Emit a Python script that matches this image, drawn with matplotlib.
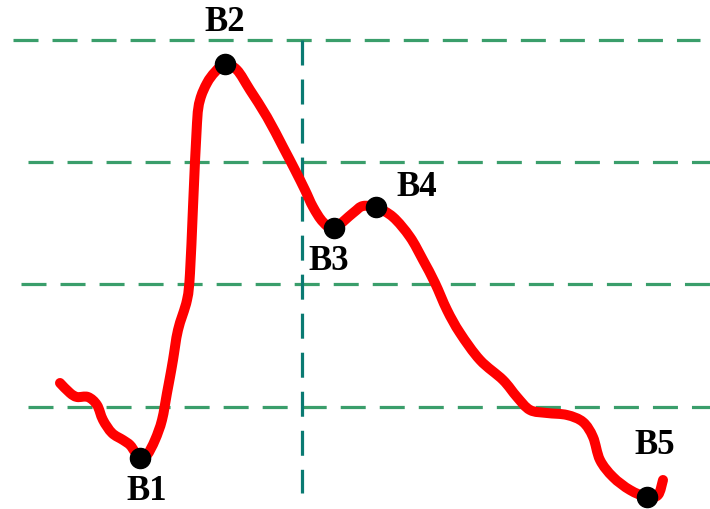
import matplotlib
matplotlib.use("Agg")
import matplotlib.pyplot as plt
from matplotlib.path import Path
from matplotlib.patches import PathPatch
import numpy as np

plt.rcParams['lines.scale_dashes'] = False

# Red curve (x, y in picture units; y grows downward)
curve_x = [60, 70, 77, 88, 97, 103, 112, 123, 130, 135, 140, 147, 155, 162, 167,
           170, 173, 178, 187, 190, 193, 197, 200, 207, 215, 225, 237, 250, 267,
           283, 295, 305, 313, 323, 334, 353, 363, 377, 393, 410, 423, 435, 447,
           460, 480, 503, 517, 530, 547, 567, 583, 593, 600, 613, 630, 647, 658, 663]
curve_y = [383, 393, 397, 397, 405, 420, 433, 440, 445, 452, 458, 455, 440, 420, 393,
           377, 360, 330, 300, 273, 207, 123, 100, 83, 72, 64, 70, 90, 117,
           147, 170, 190, 207, 222, 228, 213, 206, 208, 217, 237, 260, 283, 310,
           333, 360, 380, 397, 410, 413, 415, 422, 437, 460, 477, 490, 497, 495, 480]

# Key points
point_labels = ["B1", "B2", "B3", "B4", "B5"]
point_x = [140, 225, 334, 376, 647]
point_y = [458, 64, 228, 207, 497]
label_x = [147, 225, 329, 417, 655]
label_y = [491, 22, 261, 188, 445]

# Reference levels (horizontal dashed lines)
level_y = [39.5, 162, 284, 406.5]
level_start = [13, 28, 21, 28]
level_end = [700, 710, 710, 710]

# Vertical reference line
vline_x = 302
vline_top = 40
vline_bottom = 493

fig = plt.figure(figsize=(7.10, 5.09), dpi=100)
ax = fig.add_axes([0, 0, 1, 1])
ax.set_xlim(0, 710)
ax.set_ylim(509, 0)
ax.axis('off')

dash = (0, (18, 10.1))
for y, x0, x1 in zip(level_y, level_start, level_end):
    ax.plot([x0, x1], [y, y], color='#3a9e6b', lw=2.3,
            linestyle=dash, dash_capstyle='butt', zorder=1)

ax.plot([vline_x, vline_x], [vline_top, vline_bottom], color='#0a7a72', lw=2.3,
        linestyle=dash, dash_capstyle='butt', zorder=1)

# smooth curve through the read points (Catmull-Rom -> cubic Bezier)
pts = np.column_stack([curve_x, curve_y]).astype(float)
ext = np.vstack([pts[0], pts, pts[-1]])
verts = [tuple(pts[0])]
codes = [Path.MOVETO]
for i in range(1, len(ext) - 2):
    p0, p1, p2, p3 = ext[i - 1], ext[i], ext[i + 1], ext[i + 2]
    c1 = p1 + (p2 - p0) / 6.0
    c2 = p2 - (p3 - p1) / 6.0
    verts += [tuple(c1), tuple(c2), tuple(p2)]
    codes += [Path.CURVE4] * 3
path = Path(verts, codes)
ax.add_patch(PathPatch(path, facecolor='none', edgecolor='#ff0000', lw=7.2,
                       joinstyle='round', capstyle='round', zorder=2))

ax.plot(point_x, point_y, 'o', color='black', markersize=14.5, zorder=3)

for lab, x, y in zip(point_labels, label_x, label_y):
    ax.text(x, y, lab, ha='center', va='center', fontsize=25,
            fontfamily='Liberation Serif', fontweight='bold', color='black', zorder=4)

fig.savefig('out.png', dpi=100)
